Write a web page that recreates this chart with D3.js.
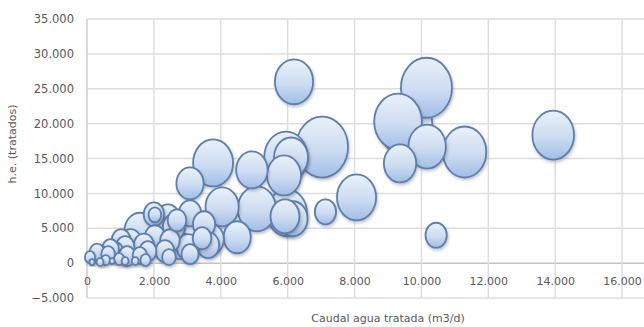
<!DOCTYPE html>
<html>
<head>
<meta charset="utf-8">
<script src="https://cdn.jsdelivr.net/npm/d3@7/dist/d3.min.js"></script>
<style>
  html, body { margin: 0; padding: 0; background: #ffffff; }
  svg { display: block; }
  text { font-family: "DejaVu Sans", "Noto Sans", sans-serif; fill: #595959; }
</style>
</head>
<body>
<script>
// Caudal de agua tratada (m3/d) por depuradora
const caudal = [6190, 10150, 9540, 9300, 10170, 9360, 11290, 10440, 13940, 8060,
  7130, 7030, 5950, 6100, 5890, 3770, 4930, 3080, 5080, 4040,
  5980, 6150, 5920, 3080, 4490, 3710, 3500, 2000, 2030, 1580,
  2420, 2690, 3080, 3620, 2780, 3440, 1020, 450, 630, 840,
  1200, 1580, 1820, 2090, 2480, 2330, 3080, 90, 150, 390,
  750, 1140, 1440, 2870, 2030, 1140, 3020, 1300, 700, 1700,
  2300, 2600, 300, 560, 960, 1750, 2450];
// Habitantes equivalentes tratados
const heTratados = [26000, 25140, 19710, 20290, 16710, 14290, 15930, 4000, 18360, 9430,
  7360, 16640, 15210, 15140, 12570, 14360, 13360, 11430, 7790, 8070,
  7210, 6360, 6710, 7140, 3710, 3430, 5570, 7000, 6930, 4640,
  6430, 6140, 3290, 2570, 2500, 3570, 3290, 1140, 1290, 1570,
  1000, 1070, 1710, 2710, 3210, 1710, 1290, 860, 140, 140,
  290, 290, 290, 4860, 3710, 2290, 2290, 3000, 2000, 2500,
  4500, 5200, 1500, 430, 570, 430, 860];
// Tamaño de burbuja
const tamano = [506, 900, 961, 784, 484, 361, 650, 156, 600, 529,
  156, 930, 650, 400, 400, 552, 342, 256, 506, 380,
  552, 306, 289, 169, 256, 225, 169, 144, 56, 324,
  196, 121, 256, 169, 182, 121, 121, 81, 64, 100,
  100, 72, 100, 144, 132, 121, 100, 36, 9, 16,
  9, 16, 16, 289, 144, 121, 169, 169, 100, 144,
  196, 169, 81, 25, 36, 36, 64];

const xTicks = [0, 2000, 4000, 6000, 8000, 10000, 12000, 14000, 16000];
const yTicks = [-5000, 0, 5000, 10000, 15000, 20000, 25000, 30000, 35000];
const xTitle = "Caudal agua tratada (m3/d)";
const yTitle = "h.e. (tratados)";

const W = 644, H = 327;
const fmt = v => d3.format(",")(v).replace(/,/g, ".");

const svg = d3.select("body").append("svg").attr("width", W).attr("height", H);

const x = d3.scaleLinear().domain([0, 18000]).range([87, 689]);
const y = d3.scaleLinear().domain([-5000, 35000]).range([298, 19]);
const r = d3.scaleSqrt().domain([0, d3.max(tamano)]).range([0, 31]);
const squash = 0.85;

const defs = svg.append("defs");
const grad = defs.append("linearGradient").attr("id", "bubbleFill")
  .attr("x1", 0).attr("y1", 0).attr("x2", 0).attr("y2", 1);
grad.append("stop").attr("offset", "0%").attr("stop-color", "#eaf1fa");
grad.append("stop").attr("offset", "55%").attr("stop-color", "#cddcf1");
grad.append("stop").attr("offset", "100%").attr("stop-color", "#a0bde6");
const shadow = defs.append("filter").attr("id", "shadow")
  .attr("x", "-30%").attr("y", "-30%").attr("width", "160%").attr("height", "160%");
shadow.append("feDropShadow").attr("dx", 1).attr("dy", 2)
  .attr("stdDeviation", 1.5).attr("flood-color", "#555").attr("flood-opacity", 0.35);

// grid (vertical lines continue past the right edge of the view)
const grid = svg.append("g");
grid.selectAll("line.h").data(yTicks).join("line")
  .attr("x1", x(0)).attr("x2", W)
  .attr("y1", d => y(d)).attr("y2", d => y(d))
  .attr("stroke", d => d === 0 ? "#c4c4c4" : "#dedede").attr("stroke-width", 1.5);
grid.selectAll("line.v").data(xTicks).join("line")
  .attr("x1", d => x(d)).attr("x2", d => x(d))
  .attr("y1", y(35000)).attr("y2", y(-5000))
  .attr("stroke", d => d === 0 ? "#cfcfcf" : "#dedede").attr("stroke-width", 1.5);

// axis labels
const yAxis = d3.axisLeft(y).tickValues(yTicks).tickFormat(fmt).tickSize(0).tickPadding(0);
const yg = svg.append("g").attr("transform", "translate(74,0)").call(yAxis);
yg.select(".domain").remove();
yg.selectAll("text").attr("font-size", 11.5).attr("fill", "#595959")
  .style("font-family", "DejaVu Sans");

const xAxis = d3.axisBottom(x).tickValues(xTicks).tickFormat(fmt).tickSize(0).tickPadding(0);
const xg = svg.append("g").attr("transform", `translate(0,${y(0) + 14})`).call(xAxis);
xg.select(".domain").remove();
xg.selectAll("text").attr("font-size", 11).attr("fill", "#595959")
  .style("font-family", "DejaVu Sans");

// bubbles, largest drawn first
const data = caudal.map((c, i) => ({ c, h: heTratados[i], s: tamano[i] }))
  .sort((a, b) => b.s - a.s);
svg.append("g").selectAll("ellipse").data(data).join("ellipse")
  .attr("cx", d => x(d.c)).attr("cy", d => y(d.h))
  .attr("rx", d => r(d.s) * squash).attr("ry", d => r(d.s))
  .attr("fill", "url(#bubbleFill)")
  .attr("stroke", "#5b7fb0").attr("stroke-width", 1.8)
  .attr("filter", "url(#shadow)");

// titles
svg.append("text").attr("x", 388).attr("y", 322).attr("text-anchor", "middle")
  .attr("font-size", 11).text(xTitle);
svg.append("text").attr("transform", "translate(16,144) rotate(-90)")
  .attr("text-anchor", "middle").attr("font-size", 11).text(yTitle);
</script>
</body>
</html>
